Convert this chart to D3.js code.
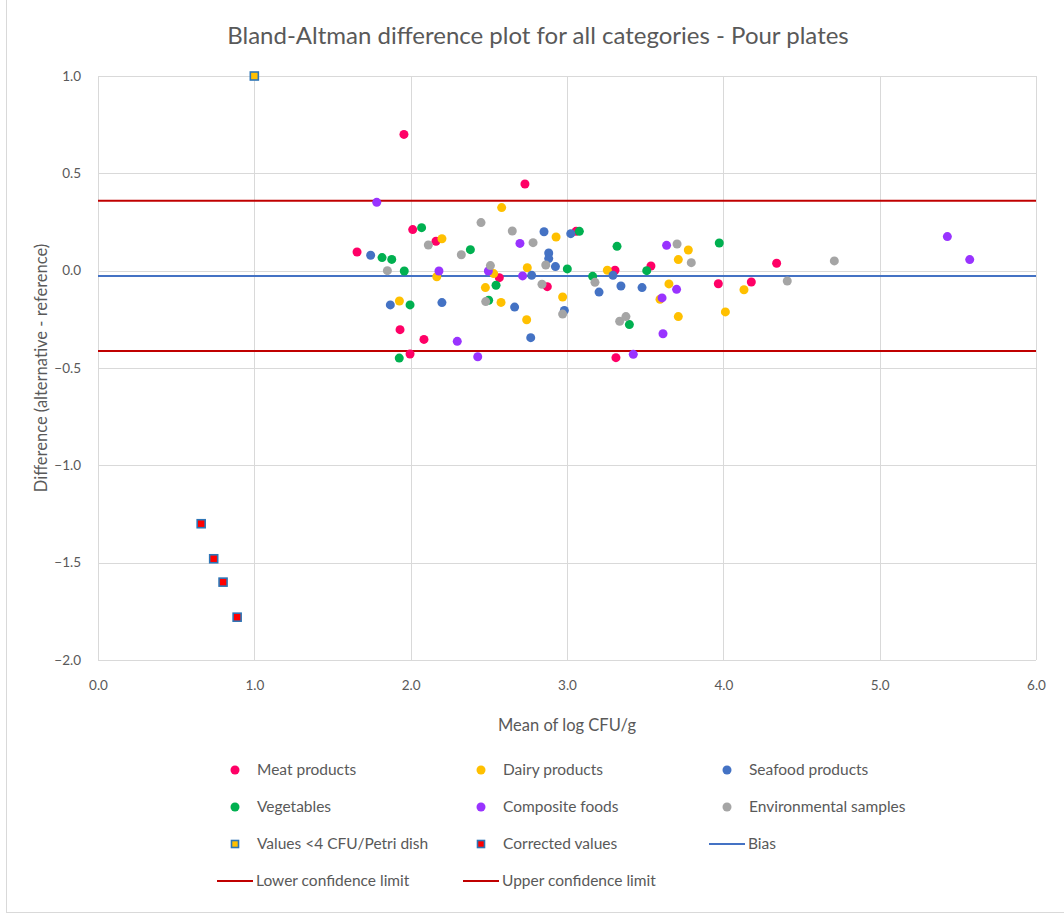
<!DOCTYPE html>
<html>
<head>
<meta charset="utf-8">
<script src="https://cdn.jsdelivr.net/npm/d3@7"></script>
<style>
  html, body { margin: 0; padding: 0; background: #fff; }
  svg { display: block; }
  text { font-family: Lato, "Open Sans", sans-serif; fill: #595959; }
</style>
</head>
<body>
<svg id="chart" width="1064" height="913"></svg>
<script>
// Bland-Altman points per category: [mean of log CFU/g, difference]
const meatProducts = [
  [1.957, 0.700], [2.013, 0.211], [2.162, 0.151], [1.657, 0.096], [1.932, -0.303],
  [2.085, -0.353], [1.996, -0.428], [2.731, 0.445], [3.058, 0.202], [2.567, -0.036],
  [2.874, -0.082], [3.307, 0.002], [3.537, 0.024], [3.313, -0.447], [3.968, -0.067],
  [4.179, -0.058], [4.341, 0.038]
];
const dairyProducts = [
  [2.200, 0.164], [2.167, -0.031], [2.582, 0.324], [2.531, -0.015], [2.478, -0.087],
  [1.928, -0.156], [2.578, -0.163], [2.930, 0.173], [2.746, 0.015], [2.972, -0.135],
  [2.742, -0.252], [3.258, 0.002], [3.712, 0.057], [3.652, -0.068], [3.595, -0.147],
  [3.712, -0.236], [3.776, 0.106], [4.132, -0.098], [4.013, -0.212]
];
const seafoodProducts = [
  [1.744, 0.079], [1.870, -0.176], [2.200, -0.164], [2.853, 0.200], [3.024, 0.190],
  [2.883, 0.091], [2.883, 0.062], [2.926, 0.021], [2.774, -0.024], [2.665, -0.187],
  [2.983, -0.204], [2.768, -0.344], [3.205, -0.110], [3.294, -0.024], [3.345, -0.079],
  [3.480, -0.087]
];
const vegetables = [
  [2.070, 0.221], [1.817, 0.067], [1.879, 0.058], [1.959, -0.002], [2.382, 0.108],
  [2.546, -0.075], [1.996, -0.176], [2.499, -0.152], [1.927, -0.449], [3.079, 0.202],
  [3.002, 0.009], [3.320, 0.125], [3.164, -0.029], [3.399, -0.277], [3.510, 0.000],
  [3.974, 0.142]
];
const compositeFoods = [
  [1.783, 0.351], [2.181, -0.002], [2.497, -0.002], [2.298, -0.363], [2.429, -0.442],
  [2.699, 0.140], [2.716, -0.027], [3.637, 0.130], [3.701, -0.096], [3.608, -0.140],
  [3.614, -0.324], [3.424, -0.430], [5.433, 0.175], [5.576, 0.057]
];
const environmentalSamples = [
  [2.113, 0.132], [1.851, 0.000], [2.450, 0.247], [2.324, 0.082], [2.510, 0.026],
  [2.480, -0.159], [2.650, 0.204], [2.783, 0.144], [2.864, 0.029], [2.840, -0.070],
  [2.972, -0.223], [3.179, -0.060], [3.704, 0.137], [3.337, -0.260], [3.377, -0.236],
  [3.795, 0.041], [4.710, 0.050], [4.409, -0.053]
];
const lowCountValues = [[1.0, 1.0]];
const correctedValues = [[0.66, -1.30], [0.74, -1.48], [0.80, -1.60], [0.89, -1.78]];

const bias = -0.027;
const lowerLimit = -0.413;
const upperLimit = 0.359;

const xTicks = [0, 1, 2, 3, 4, 5, 6];
const yTicks = [1.0, 0.5, 0.0, -0.5, -1.0, -1.5, -2.0];

const titleText = "Bland-Altman difference plot for all categories - Pour plates";
const xTitle = "Mean of log CFU/g";
const yTitle = "Difference (alternative - reference)";

const dotSeries = [
  { name: "Meat products", data: meatProducts, color: "#FF0066" },
  { name: "Dairy products", data: dairyProducts, color: "#FFC000" },
  { name: "Seafood products", data: seafoodProducts, color: "#4472C4" },
  { name: "Vegetables", data: vegetables, color: "#00B050" },
  { name: "Composite foods", data: compositeFoods, color: "#9933FF" },
  { name: "Environmental samples", data: environmentalSamples, color: "#A5A5A5" }
];
const squareSeries = [
  { name: "Values <4 CFU/Petri dish", data: lowCountValues, fill: "#FFC000" },
  { name: "Corrected values", data: correctedValues, fill: "#FF0000" }
];
const squareStroke = "#2E75B6";
const limitColor = "#C00000";
const biasColor = "#4472C4";

const svg = d3.select("#chart");

// outer chart frame
svg.append("rect")
  .attr("x", 6.5).attr("y", -2).attr("width", 1100).attr("height", 914.5)
  .attr("fill", "none").attr("stroke", "#D9D9D9").attr("stroke-width", 1);

const plot = { left: 98, right: 1036, top: 76, bottom: 660 };

const x = d3.scaleLinear().domain([0, 6]).range([plot.left, plot.right]);
const y = d3.scaleLinear().domain([-2, 1]).range([plot.bottom, plot.top]);

// title
svg.append("text")
  .attr("x", 538).attr("y", 44)
  .attr("text-anchor", "middle")
  .attr("font-size", 24)
  .text(titleText);

// gridlines
const grid = svg.append("g");
grid.selectAll("line.h").data(yTicks).join("line")
  .attr("x1", plot.left).attr("x2", plot.right)
  .attr("y1", d => Math.round(y(d)) + 0.5).attr("y2", d => Math.round(y(d)) + 0.5)
  .attr("stroke", "#D9D9D9").attr("stroke-width", 1);
grid.selectAll("line.v").data(xTicks).join("line")
  .attr("y1", plot.top).attr("y2", plot.bottom)
  .attr("x1", d => Math.round(x(d)) + 0.5).attr("x2", d => Math.round(x(d)) + 0.5)
  .attr("stroke", "#D9D9D9").attr("stroke-width", 1);

// axes (tick labels only; the grid provides the lines)
const xAxis = svg.append("g")
  .attr("transform", `translate(0,${plot.bottom + 17})`)
  .call(d3.axisBottom(x).tickValues(xTicks).tickFormat(d3.format(".1f")).tickSize(0));
xAxis.select(".domain").remove();
xAxis.selectAll("text").attr("font-size", 13.5).attr("fill", "#595959")
  .style("font-family", "Lato, 'Open Sans', sans-serif");

const yAxis = svg.append("g")
  .attr("transform", `translate(${plot.left - 14},0)`)
  .call(d3.axisLeft(y).tickValues(yTicks).tickFormat(d3.format(".1f")).tickSize(0));
yAxis.select(".domain").remove();
yAxis.selectAll("text").attr("font-size", 13.5).attr("fill", "#595959")
  .style("font-family", "Lato, 'Open Sans', sans-serif");

// axis titles
svg.append("text")
  .attr("x", (plot.left + plot.right) / 2).attr("y", 731)
  .attr("text-anchor", "middle").attr("font-size", 16.5)
  .text(xTitle);
svg.append("text")
  .attr("transform", `translate(47,${(plot.top + plot.bottom) / 2}) rotate(-90)`)
  .attr("text-anchor", "middle").attr("font-size", 16.5)
  .text(yTitle);

// bias and limits of agreement
const refLines = [
  { v: bias, color: biasColor, w: 2 },
  { v: lowerLimit, color: limitColor, w: 2 },
  { v: upperLimit, color: limitColor, w: 2 }
];
svg.append("g").selectAll("line").data(refLines).join("line")
  .attr("x1", plot.left).attr("x2", plot.right)
  .attr("y1", d => y(d.v)).attr("y2", d => y(d.v))
  .attr("stroke", d => d.color).attr("stroke-width", d => d.w);

// category dots
const dots = svg.append("g");
dotSeries.forEach(s => {
  dots.append("g").selectAll("circle").data(s.data).join("circle")
    .attr("cx", d => x(d[0])).attr("cy", d => y(d[1]))
    .attr("r", 4.5)
    .attr("fill", s.color);
});

// square markers
const squares = svg.append("g");
squareSeries.forEach(s => {
  squares.append("g").selectAll("rect").data(s.data).join("rect")
    .attr("x", d => x(d[0]) - 4).attr("y", d => y(d[1]) - 4)
    .attr("width", 8).attr("height", 8)
    .attr("fill", s.fill)
    .attr("stroke", squareStroke).attr("stroke-width", 1.6);
});

// legend
const legendCols = [235, 481, 727];
const legendRows = [770, 807, 844, 881];
const legendItems = [
  ...dotSeries.map(s => ({ type: "dot", name: s.name, color: s.color })),
  ...squareSeries.map(s => ({ type: "square", name: s.name, color: s.fill })),
  { type: "line", name: "Bias", color: biasColor },
  { type: "line", name: "Lower confidence limit", color: limitColor },
  { type: "line", name: "Upper confidence limit", color: limitColor }
];
const legend = svg.append("g");
legendItems.forEach((item, i) => {
  const cx = legendCols[i % 3];
  const cy = legendRows[Math.floor(i / 3)];
  const g = legend.append("g");
  if (item.type === "dot") {
    g.append("circle").attr("cx", cx).attr("cy", cy).attr("r", 4.5).attr("fill", item.color);
  } else if (item.type === "square") {
    g.append("rect").attr("x", cx - 3.5).attr("y", cy - 3.5).attr("width", 7).attr("height", 7)
      .attr("fill", item.color).attr("stroke", squareStroke).attr("stroke-width", 1.6);
  } else {
    g.append("line").attr("x1", cx - 18).attr("x2", cx + 18).attr("y1", cy).attr("y2", cy)
      .attr("stroke", item.color).attr("stroke-width", 2);
  }
  g.append("text")
    .attr("x", item.type === "line" ? cx + 21 : cx + 22).attr("y", cy + 5)
    .attr("font-size", 15.5)
    .text(item.name);
});
</script>
</body>
</html>
